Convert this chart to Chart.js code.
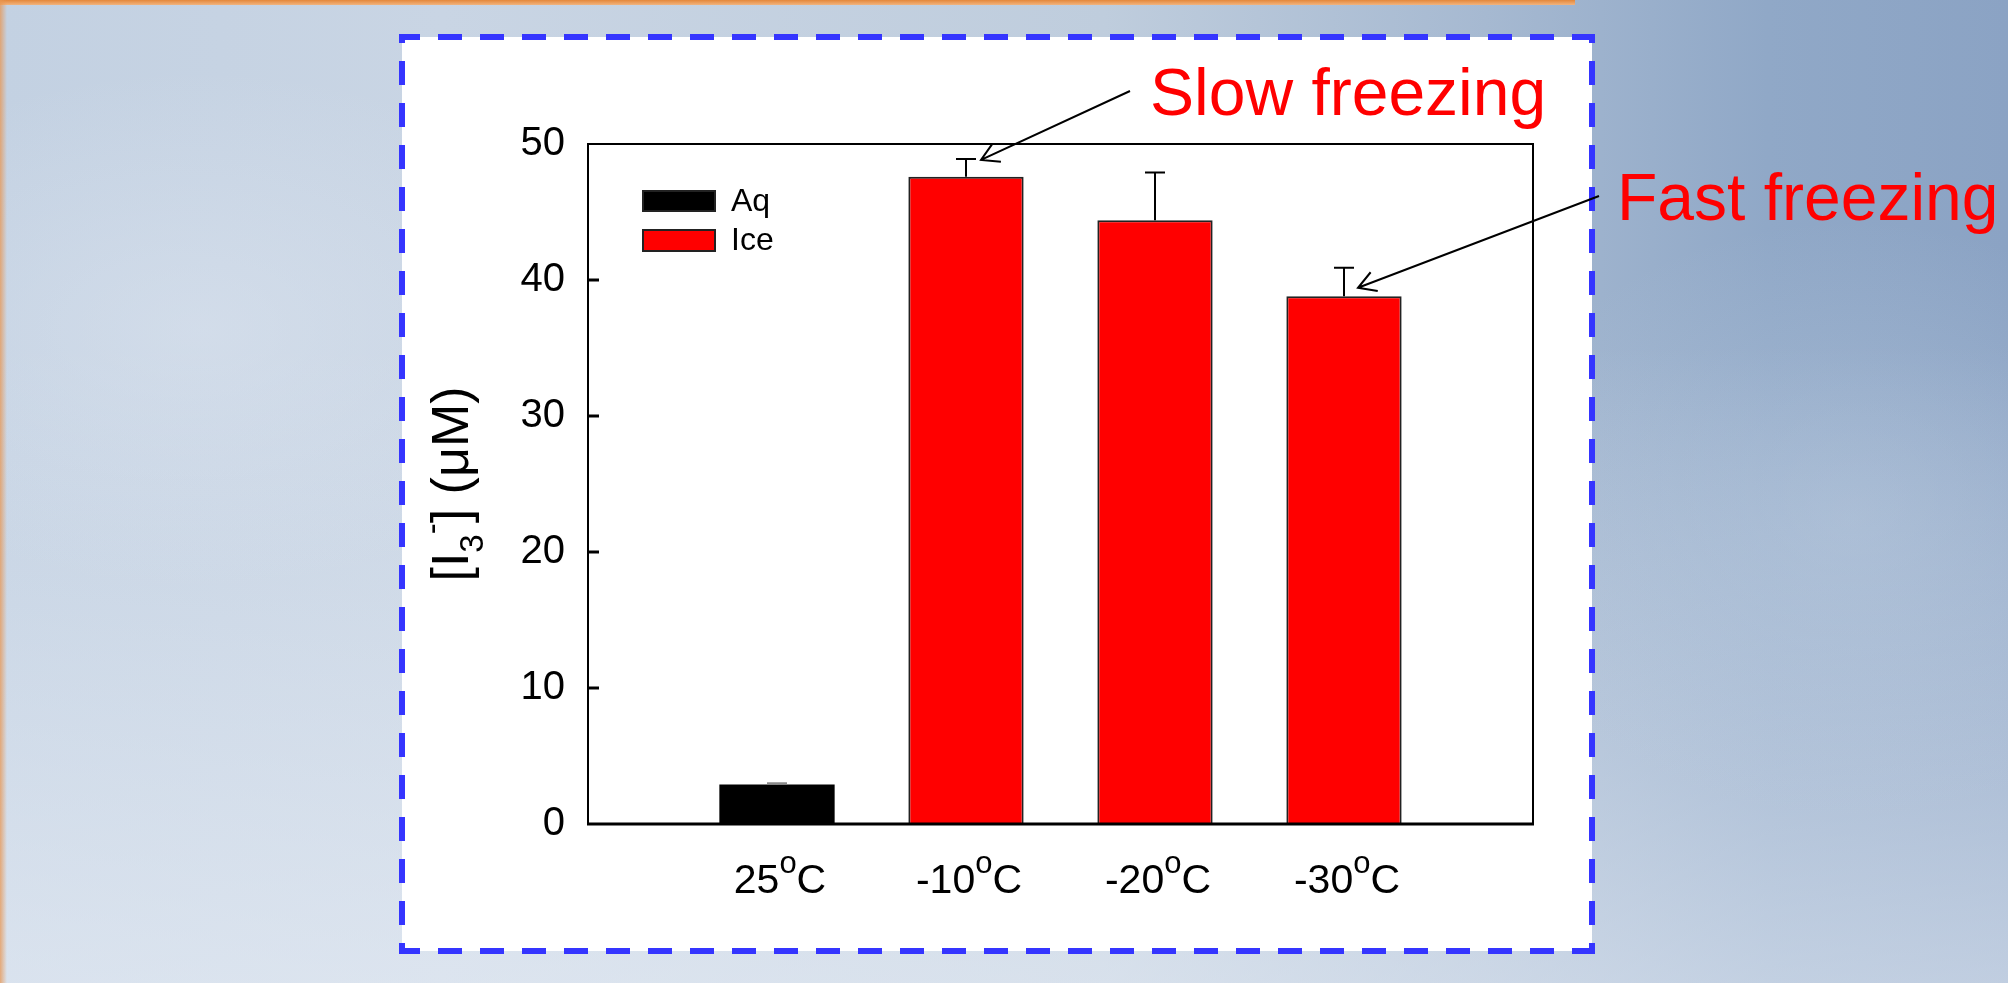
<!DOCTYPE html>
<html>
<head>
<meta charset="utf-8">
<script src="https://cdn.jsdelivr.net/npm/chart.js@4/dist/chart.umd.min.js"></script>
<style>
  html, body { margin: 0; padding: 0; width: 2008px; height: 983px; overflow: hidden; }
  body {
    background:
      radial-gradient(ellipse 420px 260px at 200px 330px, rgba(225,232,242,0.45), rgba(225,232,242,0)),
      radial-gradient(ellipse 380px 300px at 1850px 520px, rgba(200,214,230,0.35), rgba(200,214,230,0)),
      linear-gradient(to bottom, rgba(255,255,255,0) 35%, rgba(236,241,248,0.55) 100%),
      linear-gradient(to right, #c3d1e2 0%, #c9d5e4 22%, #bfcddd 55%, #a6b9d1 74%, #90a8c7 88%, #8ba3c4 100%);
  }
  .strip-top { position: absolute; left: 0; top: 0; width: 1575px; height: 5px;
    background: linear-gradient(to bottom, #e4873a, #f1b47f); }
  .strip-left { position: absolute; left: 0; top: 0; width: 7px; height: 983px;
    background: linear-gradient(to right, rgba(232,150,82,0.75), rgba(232,150,82,0)); }
  canvas { position: absolute; left: 0; top: 0; }
</style>
</head>
<body>
<div class="strip-top"></div>
<div class="strip-left"></div>
<canvas id="chart" width="2008" height="983"></canvas>
<script>
// Temperatures of the samples (°C), the measured [I3-] and their error bars
const categories = ['25', '-10', '-20', '-30'];
const aqValues = [2.9];
const aqErrors = [0.1];
const iceValues = [47.6, 44.4, 38.8];
const iceErrors = [1.3, 3.5, 2.1];
const yTicks = [0, 10, 20, 30, 40, 50];
const seriesNames = ['Aq', 'Ice'];
const seriesColors = ['#000000', '#ff0000'];

// empty slots at both ends of the category axis
const slots = ['', ...categories, ''];
const aqData = [null, ...aqValues, null, null, null, null];
const aqErr = [null, ...aqErrors, null, null, null, null];
const iceData = [null, null, ...iceValues, null];
const iceErr = [null, null, ...iceErrors, null];

const FONT = '"Liberation Sans", Arial, Helvetica, sans-serif';
const font = (px) => px + 'px ' + FONT;

// white panel with dashed blue frame
const panelPlugin = {
  id: 'panel',
  beforeDraw(chart) {
    const ctx = chart.ctx;
    ctx.save();
    ctx.fillStyle = '#ffffff';
    ctx.fillRect(402, 37, 1190, 914);
    ctx.strokeStyle = '#3535ff';
    ctx.lineWidth = 6;
    ctx.setLineDash([24, 18]);
    const seg = (x0, y0, x1, y1, off) => {
      ctx.lineDashOffset = off;
      ctx.beginPath(); ctx.moveTo(x0, y0); ctx.lineTo(x1, y1); ctx.stroke();
    };
    seg(399, 37, 1595, 37, 3);
    seg(399, 951, 1595, 951, 3);
    seg(402, 34, 402, 954, 15);
    seg(1592, 34, 1592, 954, 15);
    ctx.restore();
  }
};

// error bars, plot frame and inward tick marks
const framePlugin = {
  id: 'frame',
  afterDatasetsDraw(chart) {
    const ctx = chart.ctx;
    const ys = chart.scales.y;
    const errs = [aqErr, iceErr];
    const errColors = ['#8a8a8a', '#000000'];
    ctx.save();
    chart.data.datasets.forEach((ds, di) => {
      const meta = chart.getDatasetMeta(di);
      meta.data.forEach((el, i) => {
        const v = ds.data[i];
        const e = errs[di][i];
        if (v == null || e == null) return;
        const yt = ys.getPixelForValue(v + e);
        ctx.strokeStyle = errColors[di];
        ctx.lineWidth = 2;
        ctx.beginPath();
        ctx.moveTo(el.x, el.y);
        ctx.lineTo(el.x, yt);
        ctx.moveTo(el.x - 10, yt);
        ctx.lineTo(el.x + 10, yt);
        ctx.stroke();
      });
    });
    const a = chart.chartArea;
    ctx.strokeStyle = '#000000';
    ctx.lineWidth = 2;
    ctx.beginPath();
    ctx.moveTo(a.left, a.bottom);
    ctx.lineTo(a.left, a.top);
    ctx.lineTo(a.right, a.top);
    ctx.lineTo(a.right, a.bottom);
    ctx.stroke();
    ctx.lineWidth = 3;
    ctx.beginPath();
    ctx.moveTo(a.left - 1, a.bottom);
    ctx.lineTo(a.right + 1, a.bottom);
    ctx.stroke();
    ctx.lineWidth = 3;
    yTicks.forEach((t) => {
      if (t === ys.min || t === ys.max) return;
      const y = ys.getPixelForValue(t);
      ctx.beginPath();
      ctx.moveTo(a.left, y);
      ctx.lineTo(a.left + 11, y);
      ctx.stroke();
    });
    ctx.restore();
  }
};

// texts: category labels, legend, axis title, annotations
const textPlugin = {
  id: 'texts',
  afterDraw(chart) {
    const ctx = chart.ctx;
    const xs = chart.scales.x;
    const ys = chart.scales.y;
    ctx.save();
    ctx.fillStyle = '#000000';
    ctx.textBaseline = 'alphabetic';
    ctx.textAlign = 'left';

    // category labels "25oC" with superscript o
    categories.forEach((c, i) => {
      const cx = xs.getPixelForValue(i + 1) + 3;
      ctx.font = font(41);
      const w1 = ctx.measureText(c).width;
      const w3 = ctx.measureText('C').width;
      ctx.font = font(31);
      const w2 = ctx.measureText('o').width;
      let x = cx - (w1 + w2 + w3) / 2;
      const base = 893;
      ctx.font = font(41);
      ctx.fillText(c, x, base);
      x += w1;
      ctx.font = font(31);
      ctx.fillText('o', x, base - 20);
      x += w2;
      ctx.font = font(41);
      ctx.fillText('C', x, base);
    });

    // legend
    const boxes = [[643, 191, 72, 20], [643, 230, 72, 21]];
    seriesNames.forEach((name, i) => {
      const [bx, by, bw, bh] = boxes[i];
      ctx.fillStyle = seriesColors[i];
      ctx.fillRect(bx, by, bw, bh);
      ctx.strokeStyle = '#222222';
      ctx.lineWidth = 2;
      ctx.strokeRect(bx, by, bw, bh);
      ctx.fillStyle = '#000000';
      ctx.font = font(32);
      ctx.textBaseline = 'middle';
      ctx.fillText(name, 731, by + bh / 2 + 1);
      ctx.textBaseline = 'alphabetic';
    });

    // y axis title: [I3-] (μM)
    const parts = [
      { t: '[I', size: 52, dy: 0 },
      { t: '3', size: 33, dy: 15 },
      { t: '-', size: 33, dy: -25 },
      { t: '] (\u03bcM)', size: 52, dy: 0 }
    ];
    let total = 0;
    parts.forEach((p) => { ctx.font = font(p.size); p.w = ctx.measureText(p.t).width; total += p.w; });
    ctx.translate(468, 484);
    ctx.rotate(-Math.PI / 2);
    let tx = -total / 2;
    parts.forEach((p) => {
      ctx.font = font(p.size);
      ctx.fillText(p.t, tx, p.dy);
      tx += p.w;
    });
    ctx.setTransform(1, 0, 0, 1, 0, 0);

    // annotations with arrows pointing at the bars
    ctx.fillStyle = '#ff0000';
    ctx.font = font(66);
    ctx.fillText('Slow freezing', 1150, 115);
    ctx.fillText('Fast freezing', 1617, 220);

    const iceMeta = chart.getDatasetMeta(1).data;
    const slowEl = iceMeta[2];
    const fastEl = iceMeta[4];
    const slowTip = [slowEl.x + 15, ys.getPixelForValue(iceValues[0] + iceErrors[0]) + 1];
    const fastTip = [fastEl.x + 14, ys.getPixelForValue(iceValues[2] + iceErrors[2] * 0.3)];
    const arrow = (x0, y0, x1, y1) => {
      ctx.strokeStyle = '#000000';
      ctx.lineWidth = 2;
      ctx.beginPath();
      ctx.moveTo(x0, y0);
      ctx.lineTo(x1, y1);
      const ang = Math.atan2(y0 - y1, x0 - x1);
      const L = 20, h = Math.PI / 6;
      ctx.moveTo(x1 + L * Math.cos(ang - h), y1 + L * Math.sin(ang - h));
      ctx.lineTo(x1, y1);
      ctx.lineTo(x1 + L * Math.cos(ang + h), y1 + L * Math.sin(ang + h));
      ctx.stroke();
    };
    arrow(1130, 91, slowTip[0], slowTip[1]);
    arrow(1599, 196, fastTip[0], fastTip[1]);
    ctx.restore();
  }
};

new Chart(document.getElementById('chart'), {
  type: 'bar',
  data: {
    labels: slots,
    datasets: [
      { label: seriesNames[0], data: aqData, backgroundColor: seriesColors[0], borderColor: '#222222', borderWidth: 0 },
      { label: seriesNames[1], data: iceData, backgroundColor: seriesColors[1], borderColor: '#222222', borderWidth: 2 }
    ]
  },
  options: {
    responsive: false,
    animation: false,
    devicePixelRatio: 1,
    layout: { padding: { left: 468, top: 144, right: 475, bottom: 159 } },
    datasets: { bar: { grouped: false, categoryPercentage: 1, barPercentage: 0.61 } },
    plugins: { legend: { display: false }, tooltip: { enabled: false } },
    scales: {
      x: {
        type: 'category',
        offset: false,
        grid: { display: false },
        border: { display: false },
        ticks: { display: false },
        afterFit(s) { s.height = 0; }
      },
      y: {
        min: 0,
        max: 50,
        grid: { display: false, drawTicks: false },
        border: { display: false },
        ticks: { color: '#000000', font: { family: FONT, size: 40 }, padding: 23 },
        afterBuildTicks(s) { s.ticks = yTicks.map((v) => ({ value: v })); },
        afterFit(s) { s.width = 120; }
      }
    }
  },
  plugins: [panelPlugin, framePlugin, textPlugin]
});
</script>
</body>
</html>
